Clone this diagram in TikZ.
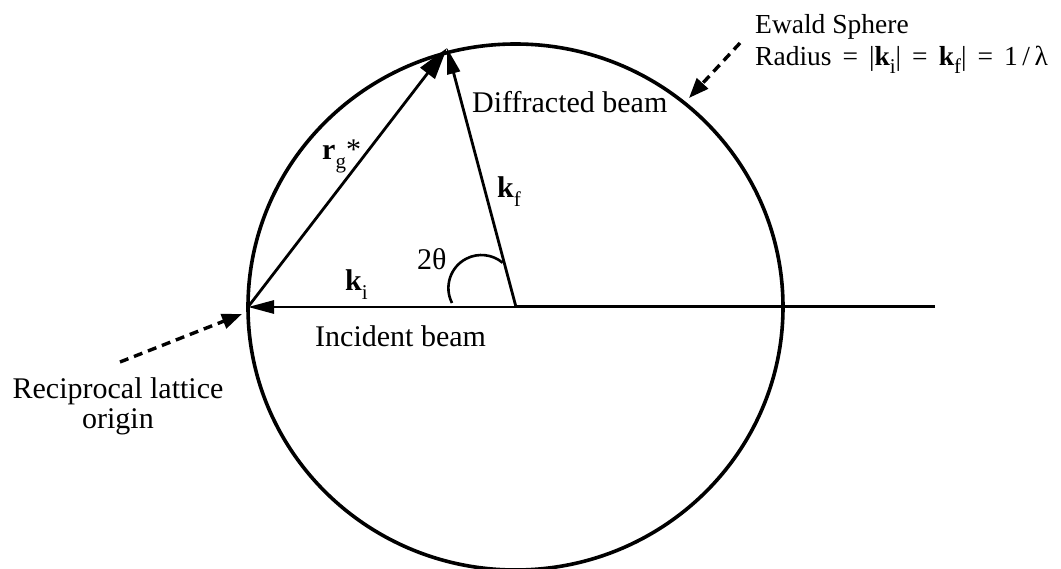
\documentclass[tikz,border=0pt]{standalone}
\usepackage{fontspec}
\setmainfont{Liberation Serif}
\usetikzlibrary{arrows.meta}
\newcommand{\lsub}[1]{\raisebox{-0.3em}{\fontsize{21pt}{21pt}\selectfont #1}}
\begin{document}
\begin{tikzpicture}[x=1pt,y=-1pt,
  lbl/.style={inner sep=0pt, font=\fontsize{30pt}{30pt}\selectfont},
  vec/.style={line width=2.8pt, -{Triangle[length=26pt,width=13pt]}},
  bigvec/.style={line width=2.8pt, -{Triangle[length=32pt,width=18pt]}},
  dasharrow/.style={line width=3.4pt, dash pattern=on 9pt off 6pt, -{Triangle[length=20pt,width=15pt]}}]
\useasboundingbox (0,0) rectangle (1061,569);
\coordinate (C) at (516,307);
\coordinate (O) at (248,307);
\coordinate (P) at (447,48);
\coordinate (E) at (935,307);
\coordinate (ds1) at (740,43);
\coordinate (de1) at (689,98);
\coordinate (ds2) at (120,362);
\coordinate (de2) at (242,314);
% Ewald sphere
\draw[line width=3.6pt] (515.5,307) ellipse[x radius=267.5pt, y radius=263pt];
% incident beam line
\draw[line width=3pt] (E) -- (C);
% vectors
\draw[vec] (C) -- (O);
\draw[bigvec] (O) -- (P);
\draw[vec] (C) -- (P);
% angle mark
\draw[line width=2.6pt] (452,303) arc[start angle=207, end angle=50, radius=33pt];
% dashed pointers
\draw[dasharrow] (ds1) -- (de1);
\draw[dasharrow] (ds2) -- (de2);
% labels
\node[lbl, anchor=base west] (rg) at (322,160) {\textbf{r}\lsub{g}*};
\node[lbl, anchor=base west] (kf) at (497,198) {\textbf{k}\lsub{f}};
\node[lbl, anchor=base west] (th) at (417,270) {2θ};
\node[lbl, anchor=base west] (ki) at (345,291) {\textbf{k}\lsub{i}};
\node[lbl, anchor=base west] (inc) at (315,347) {Incident beam};
\node[lbl, anchor=base west] (dif) at (472,113) {Diffracted beam};
\node[inner sep=0pt, anchor=north west, align=left, font=\fontsize{27.5pt}{32pt}\selectfont] (ew) at (755,14)
  {Ewald Sphere\\{\spaceskip=11pt Radius = |\textbf{k}\lsub{i}| = \textbf{k}\lsub{f}| = 1\,/\,λ}};
\node[inner sep=0pt, anchor=north, align=center, font=\fontsize{30pt}{29.5pt}\selectfont] (rl) at (118,377.5)
  {Reciprocal lattice\\origin};
\end{tikzpicture}
\end{document}
